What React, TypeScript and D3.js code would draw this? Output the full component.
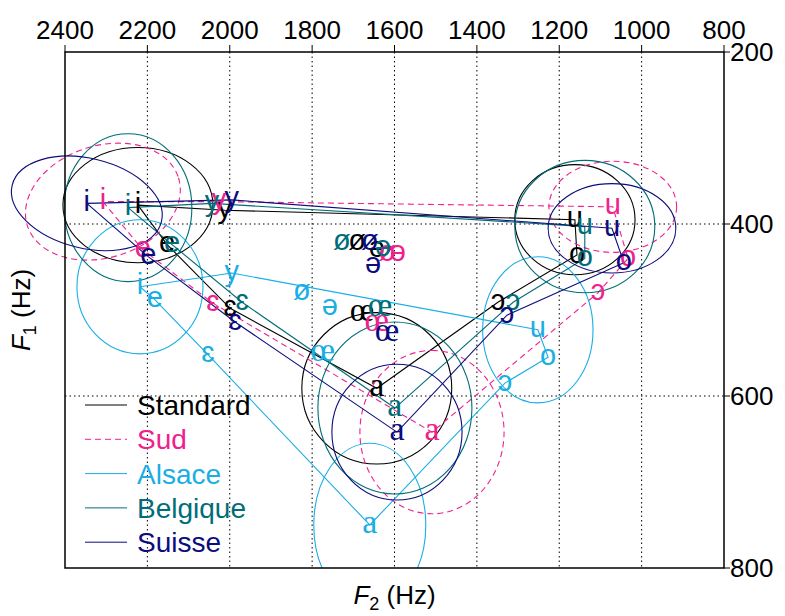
import React from "react";
import * as d3 from "d3";

const W = 785;
const H = 616;

const vowels = ["i", "y", "e", "ø", "ɛ", "œ", "a", "ə", "ɔ", "o", "u"];
const dialects = ["Standard", "Sud", "Alsace", "Belgique", "Suisse"];

// F2 / F1 (Hz) per vowel, in the order of `vowels`
const standardF2 = [2223, 2012, 2152, 1691, 1999, 1679, 1643, 1643, 1349, 1157, 1162];
const standardF1 = [378, 384, 424, 421, 498, 503, 591, 430, 491, 436, 395];
const sudF2 = [2308, 2026, 2211, 1618, 2041, 1643, 1509, 1592, 1106, 1033, 1070];
const sudF1 = [374, 374, 430, 434, 492, 515, 642, 434, 480, 440, 380];
const alsaceF2 = [2218, 1995, 2182, 1825, 2053, 1774, 1660, 1757, 1332, 1227, 1252];
const alsaceF1 = [473, 457, 488, 480, 552, 550, 750, 497, 585, 555, 523];
const belgiqueF2 = [2247, 2043, 2140, 1728, 1970, 1635, 1599, 1628, 1312, 1138, 1138];
const belgiqueF1 = [381, 376, 424, 421, 491, 497, 614, 428, 491, 440, 403];
const suisseF2 = [2347, 1995, 2198, 1660, 1987, 1618, 1594, 1652, 1327, 1043, 1072];
const suisseF1 = [376, 372, 438, 421, 514, 527, 642, 448, 506, 445, 405];

// dispersion ellipses for corner vowels: [sdF2, sdF1, correlation]
const ellipseVowels = ["i", "a", "u"];
const standardSD = [[182, 67, 0], [182, 88, 0], [146, 64, 0]];
const sudSD = [[188, 68, 0.2], [175, 95, 0], [155, 53, 0]];
const alsaceSD = [[153, 78, 0], [136, 95, 0], [134, 85, 0]];
const belgiqueSD = [[155, 86, 0], [187, 100, 0], [170, 77, 0]];
const suisseSD = [[183, 55, -0.25], [158, 79, 0], [155, 52, 0]];

// polygon path through the vowel system
const polygonOrder = ["i", "e", "ɛ", "a", "ɔ", "o", "u", "y", "i"];

const xTicks = [2400, 2200, 2000, 1800, 1600, 1400, 1200, 1000, 800];
const yTicks = [200, 400, 600, 800];

const colors = ["#000000", "#f0208c", "#1aaee5", "#006d78", "#0c0c7e"];
const dashes = [null, "6,4", null, null, null];

const seriesF2 = [standardF2, sudF2, alsaceF2, belgiqueF2, suisseF2];
const seriesF1 = [standardF1, sudF1, alsaceF1, belgiqueF1, suisseF1];
const seriesSD = [standardSD, sudSD, alsaceSD, belgiqueSD, suisseSD];

const L = 65, R = 724, T = 52, B = 568;

export default function App() {
  const x = d3.scaleLinear().domain([2400, 800]).range([L, R]);
  const y = d3.scaleLinear().domain([200, 800]).range([T, B]);
  const kx = Math.abs(x(1) - x(0));
  const ky = Math.abs(y(1) - y(0));
  const line = d3.line<[number, number]>().x((d) => d[0]).y((d) => d[1]);

  const sans = "'Liberation Sans', Arial, Helvetica, sans-serif";
  const serif = "'Liberation Serif', 'Times New Roman', serif";

  const ellipse = (cx: number, cy: number, sd: number[], key: string, color: string, dash: string | null) => {
    const sx = sd[0] * kx;
    const sy = sd[1] * ky;
    const c = -sd[2] * sx * sy;
    const a = sx * sx, b = sy * sy;
    const m = (a + b) / 2;
    const r = Math.sqrt(((a - b) / 2) ** 2 + c * c);
    const l1 = m + r, l2 = m - r;
    const th = (0.5 * Math.atan2(2 * c, a - b) * 180) / Math.PI;
    return (
      <ellipse
        key={key}
        cx={0}
        cy={0}
        rx={Math.sqrt(l1)}
        ry={Math.sqrt(Math.max(l2, 0))}
        transform={`translate(${cx},${cy}) rotate(${th})`}
        fill="none"
        stroke={color}
        strokeWidth={1.1}
        strokeDasharray={dash ?? undefined}
      />
    );
  };

  return (
    <svg width={W} height={H} style={{ position: "absolute", left: 0, top: 0, background: "#fff" }}>
      <defs>
        <clipPath id="clipY">
          <rect x={0} y={T} width={W} height={B - T} />
        </clipPath>
      </defs>
      <rect x={0} y={0} width={W} height={H} fill="#fff" />

      {/* grid */}
      {xTicks.slice(1, -1).map((t) => (
        <line key={"gx" + t} x1={x(t)} x2={x(t)} y1={T} y2={B} stroke="#000" strokeWidth={1} strokeDasharray="1.5,3" />
      ))}
      {yTicks.slice(1, -1).map((t) => (
        <line key={"gy" + t} x1={L} x2={R} y1={y(t)} y2={y(t)} stroke="#000" strokeWidth={1} strokeDasharray="1.5,3" />
      ))}

      {/* series */}
      {dialects.map((d, si) => {
        const pos = (v: string): [number, number] => {
          const k = vowels.indexOf(v);
          return [x(seriesF2[si][k]), y(seriesF1[si][k])];
        };
        return (
          <g key={d}>
            <g clipPath="url(#clipY)">
              {ellipseVowels.map((v, ei) => {
                const [cx, cy] = pos(v);
                return ellipse(cx, cy, seriesSD[si][ei], d + v, colors[si], dashes[si]);
              })}
            </g>
            <path
              d={line(polygonOrder.map(pos)) ?? ""}
              fill="none"
              stroke={colors[si]}
              strokeWidth={1.1}
              strokeDasharray={dashes[si] ?? undefined}
            />
          </g>
        );
      })}

      {dialects.map((d, si) => (
        <g key={"lab" + d}>
          {vowels.map((v, k) => {
            const isSerif = v === "a" || v === "œ";
            return (
              <text
                key={v}
                x={x(seriesF2[si][k])}
                y={y(seriesF1[si][k])}
                dy={isSerif ? "0.24em" : "0.26em"}
                textAnchor="middle"
                fontSize={isSerif ? 34 : 29}
                fontFamily={isSerif ? serif : sans}
                fill={colors[si]}
              >
                {v}
              </text>
            );
          })}
        </g>
      ))}

      {/* frame */}
      <rect x={L} y={T} width={R - L} height={B - T} fill="none" stroke="#000" strokeWidth={1.5} />

      {/* top axis */}
      {xTicks.map((t) => (
        <g key={"tx" + t}>
          <line x1={x(t)} x2={x(t)} y1={T - 7} y2={T} stroke="#000" strokeWidth={1} />
          <text x={x(t)} y={T - 13} textAnchor="middle" fontSize={26} fontFamily={sans} fill="#000">
            {t}
          </text>
        </g>
      ))}

      {/* right axis */}
      {yTicks.map((t) => (
        <g key={"ty" + t}>
          <line x1={R} x2={R + 6} y1={y(t)} y2={y(t)} stroke="#000" strokeWidth={1} />
          <text x={R + 6} y={y(t)} dy="0.36em" textAnchor="start" fontSize={26} fontFamily={sans} fill="#000">
            {t}
          </text>
        </g>
      ))}

      {/* axis titles */}
      <text
        transform={`translate(${30},${(T + B) / 2}) rotate(-90)`}
        textAnchor="middle"
        fontSize={26}
        fontFamily={sans}
        fill="#000"
      >
        <tspan fontStyle="italic">F</tspan>
        <tspan fontSize={18} dy={6}>1</tspan>
        <tspan dy={-6}> (Hz)</tspan>
      </text>
      <text x={(L + R) / 2} y={604} textAnchor="middle" fontSize={26} fontFamily={sans} fill="#000">
        <tspan fontStyle="italic">F</tspan>
        <tspan fontSize={18} dy={6}>2</tspan>
        <tspan dy={-6}> (Hz)</tspan>
      </text>

      {/* legend */}
      {dialects.map((d, si) => {
        const ly = 405 + si * 34.3;
        return (
          <g key={"lg" + d}>
            <line x1={85} x2={127} y1={ly} y2={ly} stroke={colors[si]} strokeWidth={1} strokeDasharray={dashes[si] ?? undefined} />
            <text x={137} y={ly} dy="0.36em" fontSize={28} fontFamily={sans} fill={colors[si]}>
              {d}
            </text>
          </g>
        );
      })}
    </svg>
  );
}
